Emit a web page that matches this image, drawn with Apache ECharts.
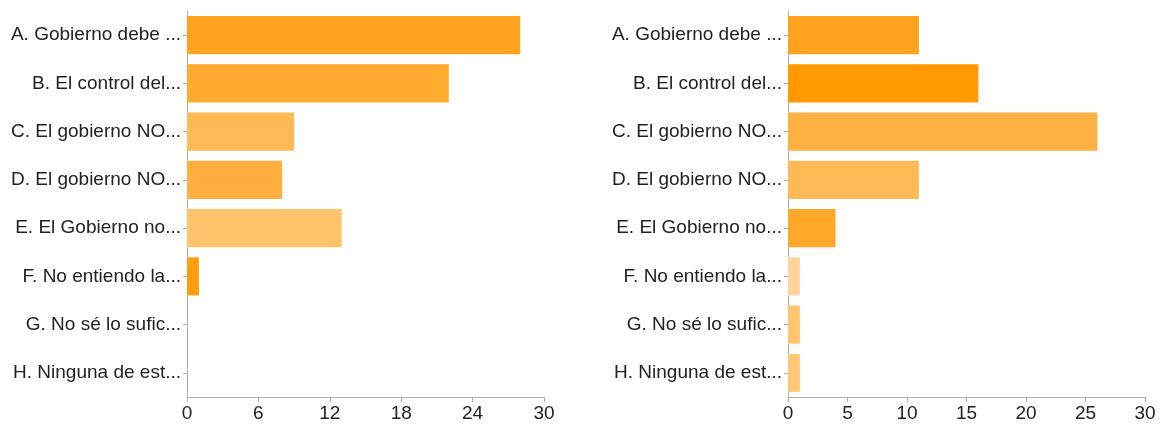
<!DOCTYPE html>
<html>
<head>
<meta charset="utf-8">
<script src="https://cdn.jsdelivr.net/npm/echarts@6/dist/echarts.min.js"></script>
<style>
  html, body { margin: 0; padding: 0; background: #fff; }
  #chart { width: 1165px; height: 426px; }
</style>
</head>
<body>
<div id="chart"></div>
<script>
// Answer options (same for both panels)
const categories = [
  'A. Gobierno debe ...',
  'B. El control del...',
  'C. El gobierno NO...',
  'D. El gobierno NO...',
  'E. El Gobierno no...',
  'F. No entiendo la...',
  'G. No sé lo sufic...',
  'H. Ninguna de est...'
];

// Response counts
const leftValues  = [28, 22, 9, 8, 13, 1, 0, 0];
const rightValues = [11, 16, 26, 11, 4, 1, 1, 1];

// Bar fills
const leftColors  = ['#FFA21E', '#FFAB30', '#FFBA56', '#FFAF3D', '#FFC36B', '#FF9D0C', '#FFC36B', '#FFC36B'];
const rightColors = ['#FFA21E', '#FF9A00', '#FFB142', '#FFBA55', '#FFA82A', '#FFD49A', '#FFC46D', '#FFC878'];

// Axis ticks
const leftTicks  = { max: 30, interval: 6 };
const rightTicks = { max: 30, interval: 5 };

const chart = echarts.init(document.getElementById('chart'));

const font = 'Liberation Sans, Arial, Helvetica, sans-serif';
const axisColor = '#b0b0b0';

function xAxisFor(gridIndex, t) {
  return {
    type: 'value', gridIndex, min: 0, max: t.max, interval: t.interval,
    axisLine: { show: true, lineStyle: { color: axisColor, width: 1 } },
    axisTick: { show: true, length: 5, lineStyle: { color: axisColor } },
    splitLine: { show: false },
    axisLabel: { color: '#222', fontFamily: font, fontSize: 19, margin: 7 }
  };
}

function yAxisFor(gridIndex) {
  return {
    type: 'category', gridIndex, data: categories, inverse: true,
    axisLine: { show: true, lineStyle: { color: axisColor, width: 1 } },
    axisTick: { show: true, length: 4, alignWithLabel: true, lineStyle: { color: axisColor } },
    axisLabel: { color: '#222', fontFamily: font, fontSize: 19, margin: 6 }
  };
}

function seriesFor(idx, values, colors) {
  return {
    type: 'bar', xAxisIndex: idx, yAxisIndex: idx,
    barCategoryGap: '21%',
    data: values.map((v, i) => ({ value: v, itemStyle: { color: colors[i] } })),
    silent: true
  };
}

chart.setOption({
  animation: false,
  backgroundColor: '#ffffff',
  grid: [
    { left: 187, right: 621, top: 11, bottom: 29 },
    { left: 788, right: 20, top: 11, bottom: 29 }
  ],
  xAxis: [xAxisFor(0, leftTicks), xAxisFor(1, rightTicks)],
  yAxis: [yAxisFor(0), yAxisFor(1)],
  series: [seriesFor(0, leftValues, leftColors), seriesFor(1, rightValues, rightColors)]
});
</script>
</body>
</html>
